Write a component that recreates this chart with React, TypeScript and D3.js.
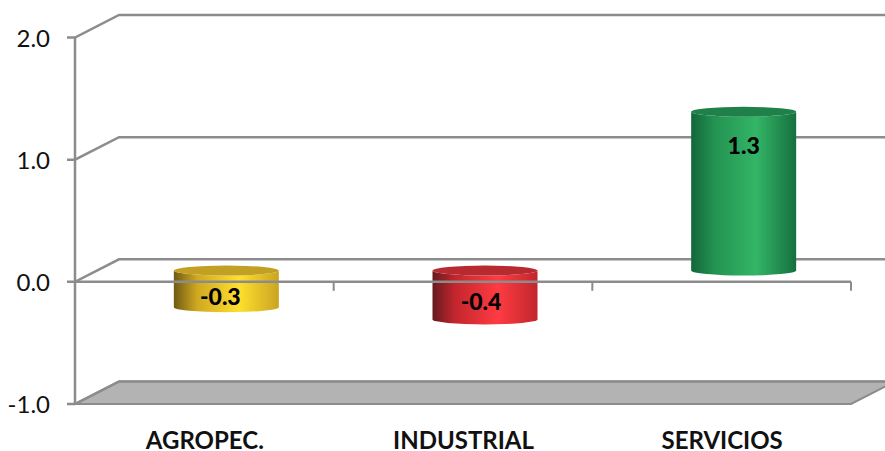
import * as d3 from 'd3'
import { useEffect, useRef } from 'react'

const categories = ['AGROPEC.', 'INDUSTRIAL', 'SERVICIOS']
const values = [-0.3, -0.4, 1.3]
const valueLabels = ['-0.3', '-0.4', '1.3']
const yTicks = [-1, 0, 1, 2]
const yTickLabels = ['-1.0', '0.0', '1.0', '2.0']

// colours per bar: edge, mid, light, right edge, top cap
const barColors = [
  ['#6f5a12', '#cfa821', '#ffdf2e', '#c9a522', '#c2a024'],
  ['#661a1e', '#c4262e', '#ff3b42', '#c2262d', '#b72a30'],
  ['#12663a', '#239352', '#33b566', '#15703f', '#1f8049'],
]
// manual label placement, like the hand moved labels of the original
const labelShift = [
  [-6, -10],
  [-4, -18],
  [0, 34],
]

const width = 885
const height = 451
const depthX = 44
const depthY = -22.5
const lineColor = '#8c8c8c'
const fontFamily = 'Lato, Carlito, Calibri, sans-serif'

export default function App() {
  const ref = useRef<SVGSVGElement>(null)

  useEffect(() => {
    const svg = d3.select(ref.current)
    svg.selectAll('*').remove()

    const y = d3.scaleLinear().domain([-1, 2]).range([404, 37.5])
    const x = d3.scaleBand().domain(categories).range([75, 851])
    const x0 = x.range()[0]
    const x1 = x.range()[1]

    // floor
    svg
      .append('polygon')
      .attr(
        'points',
        [
          [x0, y(-1)],
          [x0 + depthX, y(-1) + depthY],
          [x1 + depthX, y(-1) + depthY],
          [x1, y(-1)],
        ].join(' ')
      )
      .attr('fill', '#b3b3b3')
      .attr('stroke', lineColor)
      .attr('stroke-width', 2)

    // back wall grid + left wall diagonals
    yTicks.forEach((t) => {
      svg
        .append('polyline')
        .attr(
          'points',
          [
            [x0 - 8, y(t)],
            [x0, y(t)],
            [x0 + depthX, y(t) + depthY],
            [x1 + depthX, y(t) + depthY],
          ].join(' ')
        )
        .attr('fill', 'none')
        .attr('stroke', lineColor)
        .attr('stroke-width', 2.5)
    })

    // y axis
    svg
      .append('line')
      .attr('x1', x0)
      .attr('x2', x0)
      .attr('y1', y(2))
      .attr('y2', y(-1))
      .attr('stroke', lineColor)
      .attr('stroke-width', 2.5)

    svg
      .append('g')
      .selectAll('text')
      .data(yTicks)
      .enter()
      .append('text')
      .attr('x', 50)
      .attr('y', (d) => y(d) + 1)
      .attr('dy', '0.35em')
      .attr('text-anchor', 'end')
      .attr('font-family', fontFamily)
      .attr('font-size', 24)
      .attr('fill', '#111')
      .text((d, i) => yTickLabels[i])

    // gradients
    const defs = svg.append('defs')
    barColors.forEach((c, i) => {
      const g = defs.append('linearGradient').attr('id', `bar${i}`)
      ;[0, 0.22, 0.62, 1].forEach((o, j) => {
        g.append('stop').attr('offset', o).attr('stop-color', c[j])
      })
    })

    // cylinders sit half way into the depth
    const midX = depthX / 2
    const midY = depthY / 2
    const rx = 52.5
    const ry = 5

    const bars = svg.append('g')
    values.forEach((v, i) => {
      const cx = (x(categories[i]) as number) + x.bandwidth() / 2 + midX
      const top = y(Math.max(v, 0)) + midY
      const bottom = y(Math.min(v, 0)) + midY
      bars
        .append('path')
        .attr(
          'd',
          `M${cx - rx},${top}L${cx - rx},${bottom}A${rx},${ry} 0 0 0 ${cx + rx},${bottom}L${cx + rx},${top}A${rx},${ry} 0 0 1 ${cx - rx},${top}Z`
        )
        .attr('fill', `url(#bar${i})`)
      bars
        .append('ellipse')
        .attr('cx', cx)
        .attr('cy', top)
        .attr('rx', rx)
        .attr('ry', ry)
        .attr('fill', barColors[i][4])
    })

    // zero line in front of the bars, with category ticks
    svg
      .append('line')
      .attr('x1', x0)
      .attr('x2', x1)
      .attr('y1', y(0))
      .attr('y2', y(0))
      .attr('stroke', lineColor)
      .attr('stroke-width', 2.5)
    svg
      .append('g')
      .selectAll('line')
      .data(categories)
      .enter()
      .append('line')
      .attr('x1', (d) => (x(d) as number) + x.bandwidth())
      .attr('x2', (d) => (x(d) as number) + x.bandwidth())
      .attr('y1', y(0))
      .attr('y2', y(0) + 9)
      .attr('stroke', lineColor)
      .attr('stroke-width', 2)

    // value labels
    values.forEach((v, i) => {
      const cx = (x(categories[i]) as number) + x.bandwidth() / 2 + midX
      svg
        .append('text')
        .attr('x', cx + labelShift[i][0])
        .attr('y', y(v) + midY + labelShift[i][1])
        .attr('dy', '0.35em')
        .attr('text-anchor', 'middle')
        .attr('font-family', fontFamily)
        .attr('font-weight', 900)
        .attr('font-size', 23)
        .attr('fill', '#000')
        .text(valueLabels[i])
    })

    // category labels
    svg
      .append('g')
      .selectAll('text')
      .data(categories)
      .enter()
      .append('text')
      .attr('x', (d) => (x(d) as number) + x.bandwidth() / 2 + 0.5)
      .attr('y', 449)
      .attr('text-anchor', 'middle')
      .attr('font-family', fontFamily)
      .attr('font-weight', 700)
      .attr('font-size', 24)
      .attr('fill', '#111')
      .text((d) => d)
  }, [])

  return (
    <svg
      ref={ref}
      width={width}
      height={height}
      style={{ position: 'absolute', left: 0, top: 0, background: '#fff', display: 'block' }}
    />
  )
}
